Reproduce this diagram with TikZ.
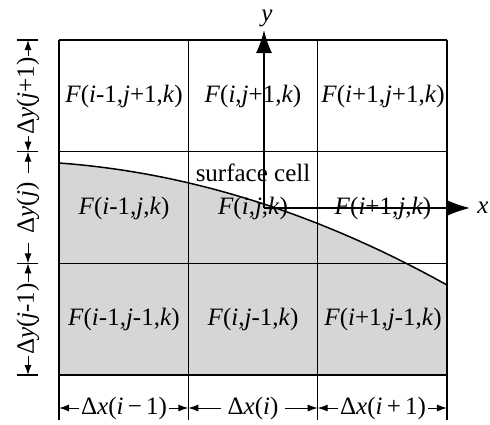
\documentclass[tikz,border=0pt]{standalone}
\usepackage{fontspec}
\setmainfont{Liberation Serif}
\usetikzlibrary{arrows.meta}
\newcommand{\Fcell}[2]{\textit{F}(\textit{i}#1,\textit{j}#2,\textit{k})}
\begin{document}
\begin{tikzpicture}[x=1pt,y=-1pt]
		% Styles (MODIFIABLES)
		\tikzstyle{grille}=[line width=1.3pt]
		\tikzstyle{ombre}=[fill=black!16]
		\tikzstyle{surface}=[line width=1.5pt]
		\tikzstyle{texte}=[font=\fontsize{25}{29}\selectfont]
		\tikzstyle{cote}=[-{Latex[length=10pt,width=7pt]},line width=1pt]
		\tikzstyle{axe}=[-{Latex[length=23pt,width=16pt]},line width=1.5pt]
		% Dimensions (MODIFIABLES)
		\def\Gauche{59}
		\def\Haut{40}
		\def\Largeur{129.33}
		\def\Hauteur{111.67}
		\def\Xcote{28}
		\def\Ycote{408}
		\useasboundingbox (0,0) rectangle (490,424);
		% Surface libre
		\coordinate (S0) at (\Gauche,163);
		\coordinate (S1) at ({\Gauche+3*\Largeur},285);
		\fill[ombre] (\Gauche,{\Haut+3*\Hauteur}) -- (S0) .. controls (188.3,172.4) and (317.7,213.1) .. (S1) -- ({\Gauche+3*\Largeur},{\Haut+3*\Hauteur}) -- cycle;
		% Grille
		\foreach \n in {0,...,3} {
			\draw[grille] ({\Gauche+\n*\Largeur},\Haut) -- ({\Gauche+\n*\Largeur},420);
			\draw[grille] (\Gauche,{\Haut+\n*\Hauteur}) -- ({\Gauche+3*\Largeur},{\Haut+\n*\Hauteur});
			\draw[grille] (17,{\Haut+\n*\Hauteur}) -- (38,{\Haut+\n*\Hauteur});
			\coordinate (TY\n) at (\Xcote,{\Haut+\n*\Hauteur});
			\coordinate (TX\n) at ({\Gauche+\n*\Largeur},\Ycote);
		}
		% Cellules
		\node[texte] (C11) at (124,96) {\Fcell{-1}{+1}};
		\node[texte] (C21) at (253,96) {\Fcell{}{+1}};
		\node[texte] (C31) at (383,96) {\Fcell{+1}{+1}};
		\node[texte] (C12) at (124,208) {\Fcell{-1}{}};
		\node[texte] (C22) at (253,208) {\Fcell{}{}};
		\node[texte] (C32) at (383,208) {\Fcell{+1}{}};
		\node[texte] (C13) at (124,319) {\Fcell{-1}{-1}};
		\node[texte] (C23) at (253,319) {\Fcell{}{-1}};
		\node[texte] (C33) at (383,319) {\Fcell{+1}{-1}};
		\node[texte] (cellule) at (253,173) {surface cell};
		% Cotes verticales
		\node[texte, rotate=90, inner sep=1pt] (DY1) at (\Xcote,96) {Δ\textit{y}(\textit{j}+1)};
		\node[texte, rotate=90, inner sep=9pt] (DY2) at (\Xcote,208) {Δ\textit{y}(\textit{j})};
		\node[texte, rotate=90, inner sep=1pt] (DY3) at (\Xcote,319) {Δ\textit{y}(\textit{j}-1)};
		% Cotes horizontales
		\node[texte, inner sep=2pt] (DX1) at (124,\Ycote) {Δ\textit{x}(\textit{i}\,−\,1)};
		\node[texte, inner sep=6pt] (DX2) at (253,\Ycote) {Δ\textit{x}(\textit{i})};
		\node[texte, inner sep=2pt] (DX3) at (383,\Ycote) {Δ\textit{x}(\textit{i}\,+\,1)};
		% Fleches de cotes
		\draw[cote] (DY1.east)--(TY0);
		\draw[cote] (DY1.west)--(TY1);
		\draw[cote] (DY2.east)--(TY1);
		\draw[cote] (DY2.west)--(TY2);
		\draw[cote] (DY3.east)--(TY2);
		\draw[cote] (DY3.west)--(TY3);
		\draw[cote] (DX1.west)--(TX0);
		\draw[cote] (DX1.east)--(TX1);
		\draw[cote] (DX2.west)--(TX1);
		\draw[cote] (DX2.east)--(TX2);
		\draw[cote] (DX3.west)--(TX2);
		\draw[cote] (DX3.east)--(TX3);
		% Surface et axes
		\draw[surface] (S0) .. controls (188.3,172.4) and (317.7,213.1) .. (S1);
		\coordinate (O) at (264,208);
		\coordinate (Ybout) at (264,30);
		\coordinate (Xbout) at (470,208);
		\node[texte, inner sep=0pt] (ylabel) at (267,18) {\textit{y}};
		\node[texte] (xlabel) at (483,208) {\textit{x}};
		\draw[axe] (O)--(Ybout);
		\draw[axe] (O)--(Xbout);
	\end{tikzpicture}
\end{document}
